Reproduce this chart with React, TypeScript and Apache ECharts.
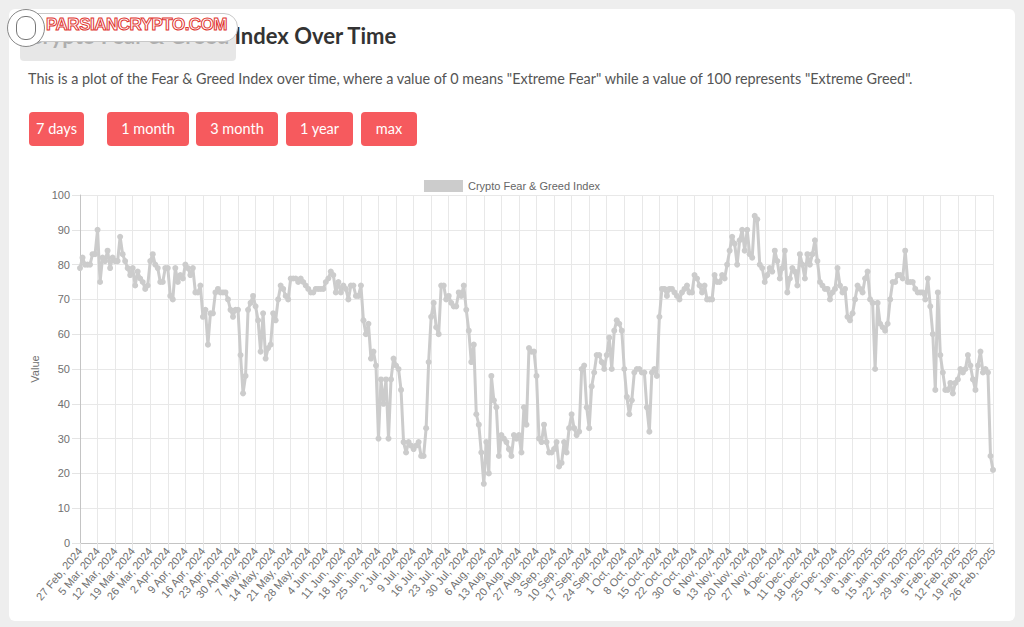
import React, { useEffect, useRef } from "react";
import * as echarts from "echarts";

// ---- data ----
const seriesName = "Crypto Fear & Greed Index";
const startDate = [2024, 1, 27]; // 27 Feb 2024 (month index 1 = Feb)
const missingDay = "26 Oct, 2024"; // one day absent from the source data
const monthNames = ["Jan", "Feb", "Mar", "Apr", "May", "Jun", "Jul", "Aug", "Sep", "Oct", "Nov", "Dec"];

const valuesMarApr = [79, 82, 80, 80, 80, 83, 83, 90, 75, 82, 81, 84, 79, 82, 81, 81, 88, 83, 81, 79, 77, 79, 74, 78, 76, 75, 73, 74, 81, 83, 80, 79, 75, 75, 79, 79, 71, 70, 79, 75, 77, 76, 80, 79, 77, 79, 72, 72, 74];
const valuesAprJun = [65, 67, 57, 66, 66, 72, 73, 72, 72, 72, 70, 67, 65, 67, 67, 54, 43, 48, 67, 69, 71, 68, 64, 55, 66, 53, 56, 57, 66, 64, 70, 74, 73, 71, 70, 76, 76, 76, 75, 76, 75, 74, 73, 72, 72, 73, 73];
const valuesJunJul = [73, 73, 75, 76, 78, 77, 72, 75, 72, 74, 73, 70, 74, 74, 71, 71, 74, 64, 60, 63, 53, 55, 51, 30, 47, 40, 47, 30, 47, 53, 51, 50, 44, 29, 26, 29, 28, 27, 28, 29, 25, 25, 33, 52, 65, 69, 62, 60];
const valuesJulAug = [74, 74, 70, 71, 69, 68, 68, 72, 71, 74, 67, 61, 52, 57, 37, 34, 26, 17, 29, 20, 48, 41, 39, 25, 31, 30, 29, 27, 25, 31, 30, 31, 26, 39, 34, 56, 55, 55, 48, 30, 29, 34];
const valuesSepOct = [29, 26, 26, 27, 29, 22, 23, 29, 26, 33, 37, 33, 31, 32, 50, 51, 39, 33, 45, 49, 54, 54, 52, 50, 54, 59, 50, 61, 64, 63, 61, 50, 42, 37, 41, 49, 50, 50, 49, 49, 39, 32, 49, 50, 48, 65, 73, 73, 71, 73, 73, 72, 71, 70];
const valuesOctNov = [72, 73, 74, 72, 72, 77, 76, 74, 72, 74, 70, 70, 70, 77, 75, 75, 77, 76];
const valuesNovDec = [80, 84, 88, 86, 80, 87, 90, 84, 90, 83, 82, 94, 93, 80, 79, 75, 77, 79, 78, 84, 81, 76, 79, 84, 72, 76, 79, 78];
const valuesDecJan = [74, 83, 80, 76, 83, 80, 83, 87, 81, 75, 74, 73, 73, 70, 72, 73, 79, 74, 72, 73, 65, 64, 66, 70, 74, 73, 72, 76, 78, 70, 69];
const valuesJanFeb = [50, 69, 63, 62, 61, 63, 70, 75, 75, 77, 77, 76, 84, 75, 75, 75, 73, 72, 72, 72, 70, 76, 68, 60, 44, 72, 54, 49, 44, 44, 46, 43, 46, 47, 50, 49, 50, 54, 51, 47, 44, 51, 55, 49, 50, 49, 25, 21];

const values = [
  ...valuesMarApr, ...valuesAprJun, ...valuesJunJul, ...valuesJulAug, ...valuesSepOct,
  ...valuesOctNov, ...valuesNovDec, ...valuesDecJan, ...valuesJanFeb,
];

const yTicks = { min: 0, max: 100, step: 10 };
const buttons = ["7 days", "1 month", "3 month", "1 year", "max"];

function buildDates(n: number): string[] {
  const out: string[] = [];
  const d = new Date(startDate[0], startDate[1], startDate[2]);
  while (out.length < n) {
    const s = `${d.getDate()} ${monthNames[d.getMonth()]}, ${d.getFullYear()}`;
    if (s !== missingDay) out.push(s);
    d.setDate(d.getDate() + 1);
  }
  return out;
}
const dates = buildDates(values.length);

const FONT = "Lato, 'Open Sans', sans-serif";
const CHART_FONT = "'Liberation Sans', Arial, sans-serif";

export default function App() {
  const ref = useRef<HTMLDivElement>(null);
  useEffect(() => {
    if (!ref.current) return;
    const chart = echarts.init(ref.current, undefined, { renderer: "svg" });
    chart.setOption({
      animation: false,
      legend: {
        data: [{ name: seriesName, icon: "rect" }],
        top: 175,
        left: "center",
        itemWidth: 39,
        itemHeight: 12,
        itemGap: 4,
        itemStyle: { color: "rgba(204,204,204,1)" },
        textStyle: { color: "#666", fontSize: 11, fontFamily: CHART_FONT },
      },
      grid: { left: 80, right: 31, top: 195, bottom: 84, containLabel: false },
      xAxis: {
        type: "category",
        data: dates,
        boundaryGap: false,
        axisLine: { lineStyle: { color: "#c4c4c4" } },
        axisTick: { show: true, interval: 6, length: 8, lineStyle: { color: "#e4e4e4" } },
        axisLabel: { interval: 6, rotate: 50, color: "#707070", fontSize: 11, margin: 6, fontFamily: CHART_FONT },
        splitLine: { show: true, interval: 6, lineStyle: { color: "#e8e8e8" } },
      },
      yAxis: {
        type: "value",
        min: yTicks.min,
        max: yTicks.max,
        interval: yTicks.step,
        name: "Value",
        nameLocation: "middle",
        nameGap: 38,
        nameTextStyle: { color: "#707070", fontSize: 11, fontFamily: CHART_FONT },
        axisLine: { show: true, lineStyle: { color: "#c4c4c4" } },
        axisTick: { show: true, length: 8, lineStyle: { color: "#e4e4e4" } },
        axisLabel: { color: "#707070", fontSize: 11, margin: 10, fontFamily: CHART_FONT },
        splitLine: { show: true, lineStyle: { color: "#e8e8e8" } },
      },
      series: [
        {
          type: "line",
          name: seriesName,
          data: values,
          symbol: "circle",
          symbolSize: 6,
          showAllSymbol: true,
          itemStyle: { color: "#cccccc" },
          lineStyle: { color: "#cccccc", width: 3 },
        },
      ],
    });
    return () => chart.dispose();
  }, []);

  return (
    <div style={{ position: "fixed", left: 0, top: 0, width: 1024, height: 627, background: "#eeeeee", overflow: "hidden", fontFamily: FONT }}>
      <div style={{ position: "absolute", left: 9, top: 9, width: 1006, height: 612, background: "#ffffff", borderRadius: 6 }} />
      <div style={{ position: "absolute", left: 28, top: 22, fontSize: 22, fontWeight: 700, color: "#333" }}>
        Crypto Fear &amp; Greed Index Over Time
      </div>
      <div style={{ position: "absolute", left: 28, top: 70, fontSize: 14.4, color: "#555" }}>
        This is a plot of the Fear &amp; Greed Index over time, where a value of 0 means "Extreme Fear" while a value of 100 represents "Extreme Greed".
      </div>
      {buttons.map((b, i) => {
        const lefts = [29, 107, 196, 286, 361];
        const widths = [55, 82, 82, 67, 56];
        return (
          <div key={b} style={{ position: "absolute", left: lefts[i], top: 112, width: widths[i], height: 34, background: "#f65a5e", color: "#fff", borderRadius: 4, fontSize: 14.5, lineHeight: "34px", textAlign: "center" }}>
            {b}
          </div>
        );
      })}
      <div ref={ref} style={{ position: "absolute", left: 0, top: 0, width: 1024, height: 627 }} />
      {/* watermark */}
      <div style={{ position: "absolute", left: 20, top: 30, width: 216, height: 31, background: "rgba(222,222,222,0.72)", borderRadius: 4 }} />
      <div style={{ position: "absolute", left: 14, top: 13, width: 222, height: 27, background: "#fff", border: "1.5px solid #c8c8c8", borderRadius: 14 }} />
      <div style={{ position: "absolute", left: 7, top: 9, width: 36, height: 36, background: "#fff", border: "1.5px solid #888", borderRadius: 19 }}>
        <div style={{ position: "absolute", left: 8, top: 6, width: 18, height: 22, border: "1.5px solid #777", borderRadius: 9 }} />
      </div>
      <div style={{ position: "absolute", left: 46, top: 15, fontSize: 17, fontWeight: 700, color: "#fff", WebkitTextStroke: "1px #e0342f", fontFamily: "'Liberation Sans', Arial, sans-serif", letterSpacing: -0.5 }}>
        PARSIANCRYPTO.COM
      </div>
    </div>
  );
}
